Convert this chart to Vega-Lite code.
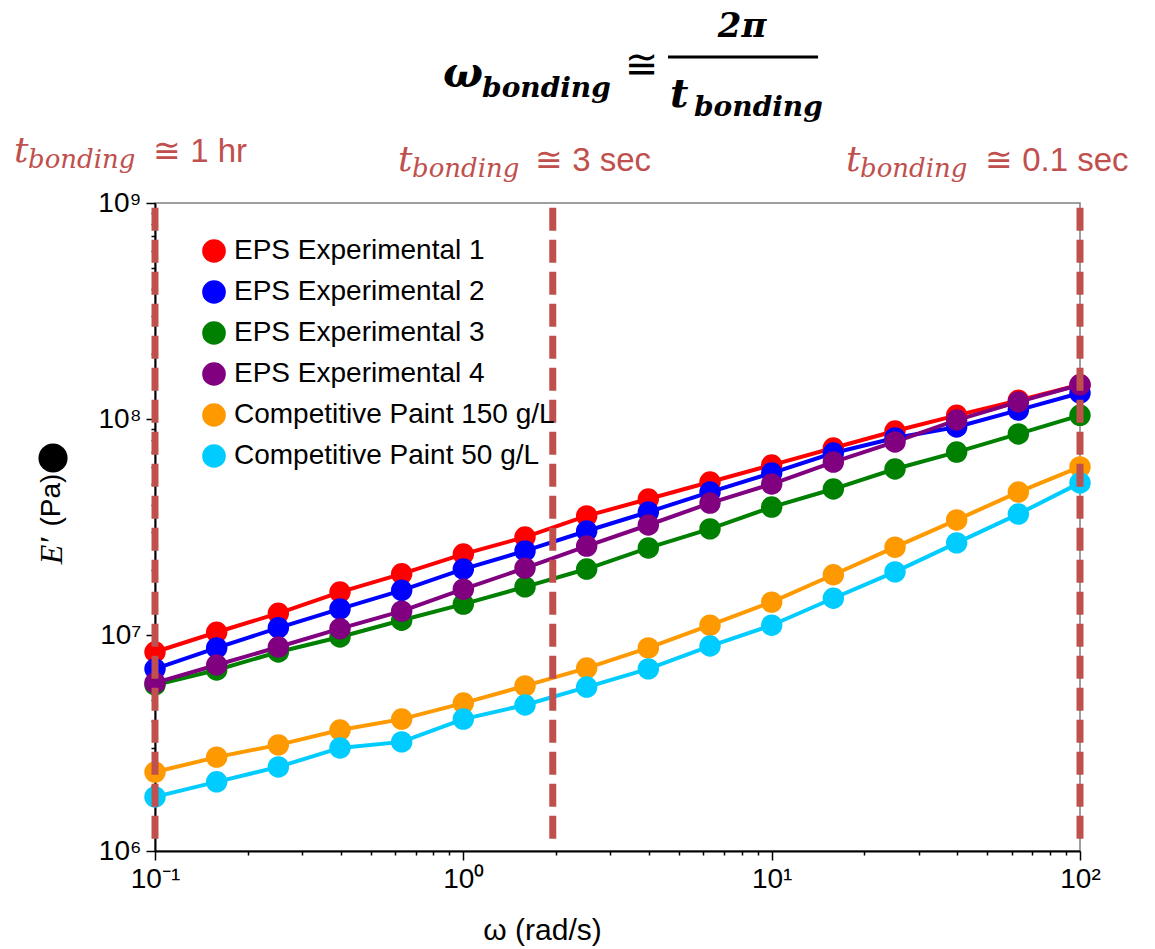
{
  "$schema": "https://vega.github.io/schema/vega-lite/v6.json",
  "width": 925,
  "height": 648,
  "autosize": {"type": "none"},
  "padding": {"left": 155, "top": 203, "right": 75, "bottom": 98},
  "background": "white",
  "config": {
    "view": {"stroke": "#808080", "strokeWidth": 1.5},
    "font": "Liberation Sans"
  },
  "datasets": {
    "series": [
      {"w": 0.1, "E": 8.34e6, "s": "EPS Experimental 1"},
      {"w": 0.1585, "E": 1.03e7, "s": "EPS Experimental 1"},
      {"w": 0.2512, "E": 1.26e7, "s": "EPS Experimental 1"},
      {"w": 0.3981, "E": 1.58e7, "s": "EPS Experimental 1"},
      {"w": 0.631, "E": 1.92e7, "s": "EPS Experimental 1"},
      {"w": 1, "E": 2.37e7, "s": "EPS Experimental 1"},
      {"w": 1.585, "E": 2.84e7, "s": "EPS Experimental 1"},
      {"w": 2.512, "E": 3.56e7, "s": "EPS Experimental 1"},
      {"w": 3.981, "E": 4.26e7, "s": "EPS Experimental 1"},
      {"w": 6.31, "E": 5.11e7, "s": "EPS Experimental 1"},
      {"w": 10, "E": 6.12e7, "s": "EPS Experimental 1"},
      {"w": 15.85, "E": 7.34e7, "s": "EPS Experimental 1"},
      {"w": 25.12, "E": 8.8e7, "s": "EPS Experimental 1"},
      {"w": 39.81, "E": 1.04e8, "s": "EPS Experimental 1"},
      {"w": 63.1, "E": 1.22e8, "s": "EPS Experimental 1"},
      {"w": 100, "E": 1.44e8, "s": "EPS Experimental 1"},
      {"w": 0.1, "E": 6.97e6, "s": "EPS Experimental 2"},
      {"w": 0.1585, "E": 8.71e6, "s": "EPS Experimental 2"},
      {"w": 0.2512, "E": 1.08e7, "s": "EPS Experimental 2"},
      {"w": 0.3981, "E": 1.32e7, "s": "EPS Experimental 2"},
      {"w": 0.631, "E": 1.61e7, "s": "EPS Experimental 2"},
      {"w": 1, "E": 2.02e7, "s": "EPS Experimental 2"},
      {"w": 1.585, "E": 2.45e7, "s": "EPS Experimental 2"},
      {"w": 2.512, "E": 3.03e7, "s": "EPS Experimental 2"},
      {"w": 3.981, "E": 3.71e7, "s": "EPS Experimental 2"},
      {"w": 6.31, "E": 4.59e7, "s": "EPS Experimental 2"},
      {"w": 10, "E": 5.62e7, "s": "EPS Experimental 2"},
      {"w": 15.85, "E": 6.96e7, "s": "EPS Experimental 2"},
      {"w": 25.12, "E": 8.17e7, "s": "EPS Experimental 2"},
      {"w": 39.81, "E": 9.19e7, "s": "EPS Experimental 2"},
      {"w": 63.1, "E": 1.1e8, "s": "EPS Experimental 2"},
      {"w": 100, "E": 1.32e8, "s": "EPS Experimental 2"},
      {"w": 0.1, "E": 5.87e6, "s": "EPS Experimental 3"},
      {"w": 0.1585, "E": 6.89e6, "s": "EPS Experimental 3"},
      {"w": 0.2512, "E": 8.34e6, "s": "EPS Experimental 3"},
      {"w": 0.3981, "E": 9.79e6, "s": "EPS Experimental 3"},
      {"w": 0.631, "E": 1.17e7, "s": "EPS Experimental 3"},
      {"w": 1, "E": 1.39e7, "s": "EPS Experimental 3"},
      {"w": 1.585, "E": 1.67e7, "s": "EPS Experimental 3"},
      {"w": 2.512, "E": 2.02e7, "s": "EPS Experimental 3"},
      {"w": 3.981, "E": 2.53e7, "s": "EPS Experimental 3"},
      {"w": 6.31, "E": 3.1e7, "s": "EPS Experimental 3"},
      {"w": 10, "E": 3.91e7, "s": "EPS Experimental 3"},
      {"w": 15.85, "E": 4.74e7, "s": "EPS Experimental 3"},
      {"w": 25.12, "E": 5.87e7, "s": "EPS Experimental 3"},
      {"w": 39.81, "E": 7.03e7, "s": "EPS Experimental 3"},
      {"w": 63.1, "E": 8.53e7, "s": "EPS Experimental 3"},
      {"w": 100, "E": 1.04e8, "s": "EPS Experimental 3"},
      {"w": 0.1, "E": 6.0e6, "s": "EPS Experimental 4"},
      {"w": 0.1585, "E": 7.26e6, "s": "EPS Experimental 4"},
      {"w": 0.2512, "E": 8.8e6, "s": "EPS Experimental 4"},
      {"w": 0.3981, "E": 1.07e7, "s": "EPS Experimental 4"},
      {"w": 0.631, "E": 1.29e7, "s": "EPS Experimental 4"},
      {"w": 1, "E": 1.63e7, "s": "EPS Experimental 4"},
      {"w": 1.585, "E": 2.04e7, "s": "EPS Experimental 4"},
      {"w": 2.512, "E": 2.58e7, "s": "EPS Experimental 4"},
      {"w": 3.981, "E": 3.23e7, "s": "EPS Experimental 4"},
      {"w": 6.31, "E": 4.08e7, "s": "EPS Experimental 4"},
      {"w": 10, "E": 5.0e7, "s": "EPS Experimental 4"},
      {"w": 15.85, "E": 6.32e7, "s": "EPS Experimental 4"},
      {"w": 25.12, "E": 7.83e7, "s": "EPS Experimental 4"},
      {"w": 39.81, "E": 9.89e7, "s": "EPS Experimental 4"},
      {"w": 63.1, "E": 1.2e8, "s": "EPS Experimental 4"},
      {"w": 100, "E": 1.44e8, "s": "EPS Experimental 4"},
      {"w": 0.1, "E": 2.32e6, "s": "Competitive Paint 150 g/L"},
      {"w": 0.1585, "E": 2.72e6, "s": "Competitive Paint 150 g/L"},
      {"w": 0.2512, "E": 3.1e6, "s": "Competitive Paint 150 g/L"},
      {"w": 0.3981, "E": 3.63e6, "s": "Competitive Paint 150 g/L"},
      {"w": 0.631, "E": 4.08e6, "s": "Competitive Paint 150 g/L"},
      {"w": 1, "E": 4.84e6, "s": "Competitive Paint 150 g/L"},
      {"w": 1.585, "E": 5.81e6, "s": "Competitive Paint 150 g/L"},
      {"w": 2.512, "E": 7.03e6, "s": "Competitive Paint 150 g/L"},
      {"w": 3.981, "E": 8.71e6, "s": "Competitive Paint 150 g/L"},
      {"w": 6.31, "E": 1.11e7, "s": "Competitive Paint 150 g/L"},
      {"w": 10, "E": 1.42e7, "s": "Competitive Paint 150 g/L"},
      {"w": 15.85, "E": 1.9e7, "s": "Competitive Paint 150 g/L"},
      {"w": 25.12, "E": 2.55e7, "s": "Competitive Paint 150 g/L"},
      {"w": 39.81, "E": 3.41e7, "s": "Competitive Paint 150 g/L"},
      {"w": 63.1, "E": 4.59e7, "s": "Competitive Paint 150 g/L"},
      {"w": 100, "E": 6.0e7, "s": "Competitive Paint 150 g/L"},
      {"w": 0.1, "E": 1.78e6, "s": "Competitive Paint 50 g/L"},
      {"w": 0.1585, "E": 2.09e6, "s": "Competitive Paint 50 g/L"},
      {"w": 0.2512, "E": 2.45e6, "s": "Competitive Paint 50 g/L"},
      {"w": 0.3981, "E": 3.0e6, "s": "Competitive Paint 50 g/L"},
      {"w": 0.631, "E": 3.2e6, "s": "Competitive Paint 50 g/L"},
      {"w": 1, "E": 4.08e6, "s": "Competitive Paint 50 g/L"},
      {"w": 1.585, "E": 4.74e6, "s": "Competitive Paint 50 g/L"},
      {"w": 2.512, "E": 5.74e6, "s": "Competitive Paint 50 g/L"},
      {"w": 3.981, "E": 6.97e6, "s": "Competitive Paint 50 g/L"},
      {"w": 6.31, "E": 8.89e6, "s": "Competitive Paint 50 g/L"},
      {"w": 10, "E": 1.11e7, "s": "Competitive Paint 50 g/L"},
      {"w": 15.85, "E": 1.48e7, "s": "Competitive Paint 50 g/L"},
      {"w": 25.12, "E": 1.96e7, "s": "Competitive Paint 50 g/L"},
      {"w": 39.81, "E": 2.67e7, "s": "Competitive Paint 50 g/L"},
      {"w": 63.1, "E": 3.63e7, "s": "Competitive Paint 50 g/L"},
      {"w": 100, "E": 5.06e7, "s": "Competitive Paint 50 g/L"}
    ],
    "vlines": [{"w": 0.1}, {"w": 1.95}, {"w": 100}]
  },
  "layer": [
    {
      "data": {"name": "series"},
      "mark": {"type": "line", "strokeWidth": 4},
      "encoding": {
        "x": {
          "field": "w", "type": "quantitative",
          "scale": {"type": "log", "domain": [0.1, 100], "nice": false},
          "axis": {
            "title": "ω  (rad/s)",
            "values": [0.1, 0.2, 0.3, 0.4, 0.5, 0.6, 0.7, 0.8, 0.9, 1, 2, 3, 4, 5, 6, 7, 8, 9, 10, 20, 30, 40, 50, 60, 70, 80, 90, 100],
            "labelExpr": "datum.value == 0.1 ? '10⁻¹' : datum.value == 1 ? '10⁰' : datum.value == 10 ? '10¹' : datum.value == 100 ? '10²' : ''",
            "labelFont": "Liberation Sans", "labelFontSize": 28, "labelColor": "black",
            "labelPadding": 5, "labelFlush": false, "labelOverlap": false,
            "tickColor": "black", "tickWidth": 1.5,
            "tickSize": {"condition": {"test": "datum.value == 0.1 || datum.value == 1 || datum.value == 10 || datum.value == 100", "value": 9}, "value": 4},
            "domainColor": "black", "domainWidth": 2, "grid": false,
            "titleFont": "Liberation Sans", "titleFontSize": 30, "titleFontWeight": "normal", "titleColor": "black",
            "titleX": 387, "titleY": 79, "titleBaseline": "middle"
          }
        },
        "y": {
          "field": "E", "type": "quantitative",
          "scale": {"type": "log", "domain": [1000000, 1000000000], "nice": false},
          "axis": {
            "title": null,
            "values": [1e6, 2e6, 3e6, 4e6, 5e6, 6e6, 7e6, 8e6, 9e6, 1e7, 2e7, 3e7, 4e7, 5e7, 6e7, 7e7, 8e7, 9e7, 1e8, 2e8, 3e8, 4e8, 5e8, 6e8, 7e8, 8e8, 9e8, 1e9],
            "labelExpr": "datum.value == 1e6 ? '10⁶' : datum.value == 1e7 ? '10⁷' : datum.value == 1e8 ? '10⁸' : datum.value == 1e9 ? '10⁹' : ''",
            "labelFont": "Liberation Sans", "labelFontSize": 28, "labelColor": "black",
            "labelPadding": 5, "labelFlush": false, "labelOverlap": false,
            "tickColor": "black", "tickWidth": 1.5,
            "tickSize": {"condition": {"test": "datum.value == 1e6 || datum.value == 1e7 || datum.value == 1e8 || datum.value == 1e9", "value": 9}, "value": 4},
            "domainColor": "black", "domainWidth": 2, "grid": false
          }
        },
        "color": {
          "field": "s", "type": "nominal",
          "scale": {
            "domain": ["EPS Experimental 1", "EPS Experimental 2", "EPS Experimental 3", "EPS Experimental 4", "Competitive Paint 150 g/L", "Competitive Paint 50 g/L"],
            "range": ["#FF0000", "#0000FF", "#008000", "#800080", "#FF9900", "#00CCFF"]
          },
          "legend": {
            "orient": "none", "legendX": 45, "legendY": 34, "title": null, "padding": 0,
            "labelFont": "Liberation Sans", "labelFontSize": 28, "labelColor": "black", "labelLimit": 600,
            "symbolType": "circle", "symbolSize": 560, "symbolStrokeWidth": 0, "symbolOpacity": 1,
            "rowPadding": 13, "labelOffset": 6
          }
        }
      }
    },
    {
      "data": {"name": "series"},
      "mark": {"type": "point", "shape": "circle", "filled": true, "size": 460, "opacity": 1},
      "encoding": {
        "x": {"field": "w", "type": "quantitative"},
        "y": {"field": "E", "type": "quantitative"},
        "color": {"field": "s", "type": "nominal"}
      }
    },
    {
      "data": {"name": "vlines"},
      "mark": {"type": "rule", "color": "#C0504D", "strokeWidth": 7, "strokeDash": [23, 9]},
      "encoding": {
        "x": {"field": "w", "type": "quantitative"},
        "y": {"datum": 950000000},
        "y2": {"datum": 1120000}
      }
    },
    {
      "data": {"values": [{"t": "ω"}]},
      "mark": {"type": "text", "font": "DejaVu Serif", "fontWeight": "bold", "fontStyle": "italic", "fontSize": 42, "align": "left", "baseline": "alphabetic", "color": "black"},
      "encoding": {"x": {"datum": 0.8593}, "y": {"datum": 3444000000}, "text": {"field": "t"}}
    },
    {
      "data": {"values": [{"t": "bonding"}]},
      "mark": {"type": "text", "font": "DejaVu Serif", "fontWeight": "bold", "fontStyle": "italic", "fontSize": 28, "align": "left", "baseline": "alphabetic", "color": "black"},
      "encoding": {"x": {"datum": 1.15}, "y": {"datum": 3095000000}, "text": {"field": "t"}}
    },
    {
      "data": {"values": [{"t": "≅"}]},
      "mark": {"type": "text", "font": "DejaVu Sans", "fontSize": 40, "align": "left", "baseline": "alphabetic", "color": "black"},
      "encoding": {"x": {"datum": 3.344}, "y": {"datum": 3790000000}, "text": {"field": "t"}}
    },
    {
      "data": {"values": [{"t": "bar"}]},
      "mark": {"type": "rule", "color": "black", "strokeWidth": 3},
      "encoding": {"x": {"datum": 4.611}, "x2": {"datum": 14.14}, "y": {"datum": 4742000000}}
    },
    {
      "data": {"values": [{"t": "2π"}]},
      "mark": {"type": "text", "font": "DejaVu Serif", "fontWeight": "bold", "fontStyle": "italic", "fontSize": 34, "align": "center", "baseline": "alphabetic", "color": "black"},
      "encoding": {"x": {"datum": 8.013}, "y": {"datum": 5869000000}, "text": {"field": "t"}}
    },
    {
      "data": {"values": [{"t": "t"}]},
      "mark": {"type": "text", "font": "DejaVu Serif", "fontWeight": "bold", "fontStyle": "italic", "fontSize": 40, "align": "left", "baseline": "alphabetic", "color": "black"},
      "encoding": {"x": {"datum": 4.681}, "y": {"datum": 2783000000}, "text": {"field": "t"}}
    },
    {
      "data": {"values": [{"t": "bonding"}]},
      "mark": {"type": "text", "font": "DejaVu Serif", "fontWeight": "bold", "fontStyle": "italic", "fontSize": 28, "align": "left", "baseline": "alphabetic", "color": "black"},
      "encoding": {"x": {"datum": 5.6}, "y": {"datum": 2528000000}, "text": {"field": "t"}}
    },
    {
      "data": {"values": [{"t": "t"}]},
      "mark": {"type": "text", "font": "DejaVu Serif", "fontStyle": "italic", "fontSize": 36, "align": "left", "baseline": "alphabetic", "color": "#C0504D"},
      "encoding": {"x": {"datum": 0.03488}, "y": {"datum": 1548000000}, "text": {"field": "t"}}
    },
    {
      "data": {"values": [{"t": "bonding"}]},
      "mark": {"type": "text", "font": "DejaVu Serif", "fontStyle": "italic", "fontSize": 26, "align": "left", "baseline": "alphabetic", "color": "#C0504D"},
      "encoding": {"x": {"datum": 0.03875}, "y": {"datum": 1452000000}, "text": {"field": "t"}}
    },
    {
      "data": {"values": [{"t": "≅ 1 hr"}]},
      "mark": {"type": "text", "font": "Liberation Sans", "fontSize": 33, "align": "left", "baseline": "alphabetic", "color": "#C0504D"},
      "encoding": {"x": {"datum": 0.0985}, "y": {"datum": 1548000000}, "text": {"field": "t"}}
    },
    {
      "data": {"values": [{"t": "t"}]},
      "mark": {"type": "text", "font": "DejaVu Serif", "fontStyle": "italic", "fontSize": 36, "align": "left", "baseline": "alphabetic", "color": "#C0504D"},
      "encoding": {"x": {"datum": 0.6139}, "y": {"datum": 1406000000}, "text": {"field": "t"}}
    },
    {
      "data": {"values": [{"t": "bonding"}]},
      "mark": {"type": "text", "font": "DejaVu Serif", "fontStyle": "italic", "fontSize": 26, "align": "left", "baseline": "alphabetic", "color": "#C0504D"},
      "encoding": {"x": {"datum": 0.6817}, "y": {"datum": 1319000000}, "text": {"field": "t"}}
    },
    {
      "data": {"values": [{"t": "≅ 3 sec"}]},
      "mark": {"type": "text", "font": "Liberation Sans", "fontSize": 33, "align": "left", "baseline": "alphabetic", "color": "#C0504D"},
      "encoding": {"x": {"datum": 1.708}, "y": {"datum": 1406000000}, "text": {"field": "t"}}
    },
    {
      "data": {"values": [{"t": "t"}]},
      "mark": {"type": "text", "font": "DejaVu Serif", "fontStyle": "italic", "fontSize": 36, "align": "left", "baseline": "alphabetic", "color": "#C0504D"},
      "encoding": {"x": {"datum": 17.42}, "y": {"datum": 1406000000}, "text": {"field": "t"}}
    },
    {
      "data": {"values": [{"t": "bonding"}]},
      "mark": {"type": "text", "font": "DejaVu Serif", "fontStyle": "italic", "fontSize": 26, "align": "left", "baseline": "alphabetic", "color": "#C0504D"},
      "encoding": {"x": {"datum": 19.34}, "y": {"datum": 1319000000}, "text": {"field": "t"}}
    },
    {
      "data": {"values": [{"t": "≅ 0.1 sec"}]},
      "mark": {"type": "text", "font": "Liberation Sans", "fontSize": 33, "align": "left", "baseline": "alphabetic", "color": "#C0504D"},
      "encoding": {"x": {"datum": 49.19}, "y": {"datum": 1406000000}, "text": {"field": "t"}}
    },
    {
      "data": {"values": [{"t": "dot"}]},
      "mark": {"type": "point", "shape": "circle", "filled": true, "size": 850, "color": "black", "opacity": 1},
      "encoding": {"x": {"datum": 0.04669}, "y": {"datum": 65970000}}
    },
    {
      "data": {"values": [{"t": "(Pa)"}]},
      "mark": {"type": "text", "font": "Liberation Sans", "fontSize": 28, "angle": 270, "align": "center", "baseline": "middle", "color": "black"},
      "encoding": {"x": {"datum": 0.04634}, "y": {"datum": 42170000}, "text": {"field": "t"}}
    },
    {
      "data": {"values": [{"t": "E′"}]},
      "mark": {"type": "text", "font": "Liberation Serif", "fontStyle": "italic", "fontSize": 32, "angle": 270, "align": "center", "baseline": "middle", "color": "black"},
      "encoding": {"x": {"datum": 0.04634}, "y": {"datum": 24500000}, "text": {"field": "t"}}
    }
  ]
}
